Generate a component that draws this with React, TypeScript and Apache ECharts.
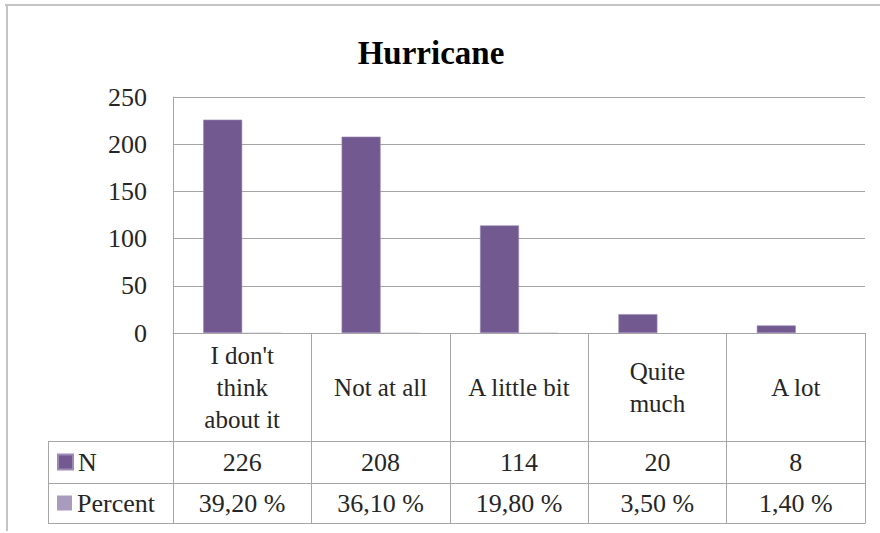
import React, { useEffect, useRef } from "react";
import * as echarts from "echarts";

const categories = ["I don't\nthink\nabout it", "Not at all", "A little bit", "Quite\nmuch", "A lot"];
const nValues = [226, 208, 114, 20, 8];
const percentValues = [39.2, 36.1, 19.8, 3.5, 1.4];
const yMin = 0;
const yMax = 250;
const yStep = 50;

const FONT = "Liberation Serif, serif";
const LINE = "#a6a6a6";
const TEXT = "#262626";

// plot / table layout (px)
const W = 880;
const H = 533;
const PLOT_LEFT = 173;
const PLOT_RIGHT = 865;
const PLOT_TOP = 97;
const AXIS_Y = 333;
const ROW_N = 441;
const ROW_P = 483;
const TABLE_BOTTOM = 523;
const TABLE_LEFT = 48;

const fmtPercent = (v: number) => v.toFixed(2).replace(".", ",") + " %";

export default function App() {
  const ref = useRef<HTMLDivElement>(null);

  useEffect(() => {
    if (!ref.current) return;
    const chart = echarts.init(ref.current, undefined, { renderer: "svg" });

    const hLine = (y: number) => ({
      type: "line",
      shape: { x1: TABLE_LEFT, y1: y + 0.5, x2: PLOT_RIGHT + 0.5, y2: y + 0.5 },
      style: { stroke: LINE, lineWidth: 1 },
      silent: true,
    });

    const legendRow = (name: string, rowTop: number, rowBottom: number) => ({
      orient: "horizontal",
      left: 52,
      top: (rowTop + rowBottom) / 2 - 18,
      height: 28,
      itemWidth: 15,
      itemHeight: 15,
      icon: "rect",
      selectedMode: false,
      textStyle: { fontFamily: FONT, fontSize: 26, color: TEXT },
      data: [name],
    });

    chart.setOption({
      animation: false,
      backgroundColor: "#ffffff",
      title: {
        text: "Hurricane",
        left: 426,
        textAlign: "center",
        top: 31,
        textStyle: { fontFamily: FONT, fontWeight: "bold", fontSize: 33, color: "#000" },
      },
      legend: [legendRow("N", ROW_N, ROW_P), legendRow("Percent", ROW_P, TABLE_BOTTOM)],
      grid: {
        left: PLOT_LEFT,
        right: W - PLOT_RIGHT,
        top: PLOT_TOP,
        bottom: H - AXIS_Y,
        containLabel: false,
      },
      xAxis: [
        {
          type: "category",
          data: categories,
          position: "bottom",
          axisLine: { show: true, lineStyle: { color: LINE } },
          axisTick: { show: true, interval: 0, length: TABLE_BOTTOM - AXIS_Y, lineStyle: { color: LINE } },
          axisLabel: {
            interval: 0,
            margin: (ROW_N - AXIS_Y) / 2,
            verticalAlign: "middle",
            fontFamily: FONT,
            fontSize: 25,
            lineHeight: 32,
            color: TEXT,
            align: "center",
          },
        },
        {
          type: "category",
          data: categories,
          position: "bottom",
          axisLine: { show: false },
          axisTick: { show: false },
          axisLabel: {
            interval: 0,
            margin: (ROW_N + ROW_P) / 2 - AXIS_Y,
            verticalAlign: "middle",
            fontFamily: FONT,
            fontSize: 26,
            color: TEXT,
            formatter: (_v: string, i: number) => String(nValues[i]),
          },
        },
        {
          type: "category",
          data: categories,
          position: "bottom",
          axisLine: { show: false },
          axisTick: { show: false },
          axisLabel: {
            interval: 0,
            margin: (ROW_P + TABLE_BOTTOM) / 2 - AXIS_Y,
            verticalAlign: "middle",
            fontFamily: FONT,
            fontSize: 26,
            color: TEXT,
            formatter: (_v: string, i: number) => fmtPercent(percentValues[i]),
          },
        },
      ],
      yAxis: {
        type: "value",
        min: yMin,
        max: yMax,
        interval: yStep,
        axisLine: { show: true, lineStyle: { color: LINE } },
        axisTick: { show: false },
        splitLine: { show: true, lineStyle: { color: LINE } },
        axisLabel: { margin: 26, fontFamily: FONT, fontSize: 26, color: TEXT },
      },
      series: [
        {
          name: "N",
          type: "bar",
          xAxisIndex: 0,
          data: nValues,
          barWidth: 39,
          barGap: "0%",
          itemStyle: { color: "#725990", borderColor: "#9d8bb5", borderWidth: 0.6 },
        },
        {
          name: "Percent",
          type: "bar",
          xAxisIndex: 0,
          data: percentValues.map((p) => p / 100),
          barWidth: 39,
          barGap: "0%",
          itemStyle: { color: "#a99bbd" },
        },
      ],
      graphic: [
        hLine(ROW_N),
        hLine(ROW_P),
        hLine(TABLE_BOTTOM),
        {
          type: "line",
          shape: { x1: TABLE_LEFT + 0.5, y1: ROW_N, x2: TABLE_LEFT + 0.5, y2: TABLE_BOTTOM + 1 },
          style: { stroke: LINE, lineWidth: 1 },
          silent: true,
        },
        // chart-area frame
        {
          type: "line",
          shape: { x1: 5, y1: 5, x2: W, y2: 5 },
          style: { stroke: "#c4c4c4", lineWidth: 2 },
          silent: true,
        },
        {
          type: "line",
          shape: { x1: 7, y1: 4, x2: 7, y2: 531 },
          style: { stroke: "#c4c4c4", lineWidth: 2 },
          silent: true,
        },
      ],
    });

    return () => chart.dispose();
  }, []);

  return <div ref={ref} style={{ width: W, height: H, position: "absolute", left: 0, top: 0 }} />;
}
